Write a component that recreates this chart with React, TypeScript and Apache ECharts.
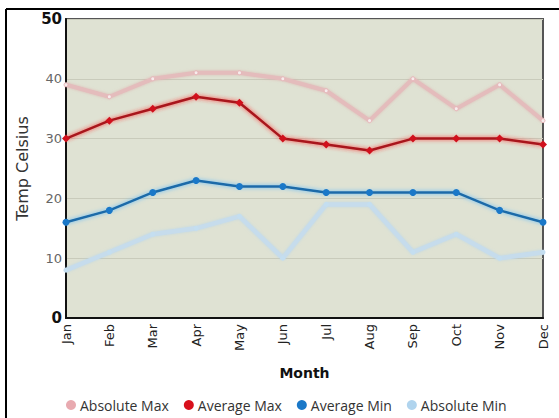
import React, { useEffect, useRef } from "react";
import * as echarts from "echarts";

const months = ["Jan", "Feb", "Mar", "Apr", "May", "Jun", "Jul", "Aug", "Sep", "Oct", "Nov", "Dec"];
const absoluteMax = [39, 37, 40, 41, 41, 40, 38, 33, 40, 35, 39, 33];
const averageMax = [30, 33, 35, 37, 36, 30, 29, 28, 30, 30, 30, 29];
const averageMin = [16, 18, 21, 23, 22, 22, 21, 21, 21, 21, 18, 16];
const absoluteMin = [8, 11, 14, 15, 17, 10, 19, 19, 11, 14, 10, 11];

const FONT = "DejaVu Sans";

export default function App() {
  const ref = useRef<HTMLDivElement>(null);
  useEffect(() => {
    if (!ref.current) return;
    const chart = echarts.init(ref.current, null, { renderer: "svg" });
    chart.setOption({
      animation: false,
      backgroundColor: "#ffffff",
      textStyle: { fontFamily: FONT },
      graphic: [
        { type: "line", shape: { x1: 6, y1: 9, x2: 559, y2: 9 }, style: { stroke: "#000", lineWidth: 2 } },
        { type: "line", shape: { x1: 6, y1: 9, x2: 6, y2: 418 }, style: { stroke: "#000", lineWidth: 2 } },
      ],
      grid: {
        left: 66,
        right: 16,
        top: 19,
        bottom: 100,
        show: true,
        backgroundColor: "#dfe2d3",
        borderColor: "#555",
        borderWidth: 2,
      },
      legend: {
        bottom: 1,
        left: 61,
        itemGap: 15,
        itemWidth: 10,
        itemHeight: 10,
        icon: "circle",
        itemStyle: { borderWidth: 0 },
        textStyle: { fontFamily: "Open Sans", fontSize: 14, color: "#333", padding: [0, 0, 0, -1] },
        data: [
          { name: "Absolute Max", itemStyle: { color: "#e8aab0" } },
          { name: "Average Max", itemStyle: { color: "#d8101c" } },
          { name: "Average Min", itemStyle: { color: "#1a78c8" } },
          { name: "Absolute Min", itemStyle: { color: "#b0d4ee" } },
        ],
      },
      xAxis: {
        type: "category",
        data: months,
        boundaryGap: false,
        name: "Month",
        nameLocation: "middle",
        nameGap: 48,
        nameTextStyle: { fontFamily: FONT, fontSize: 14, fontWeight: "bold", color: "#111" },
        axisLine: { lineStyle: { color: "#111", width: 2 } },
        axisTick: { show: false },
        axisLabel: { rotate: 90, fontSize: 13, color: "#222", margin: 6, fontFamily: FONT },
        splitLine: { show: false },
      },
      yAxis: {
        type: "value",
        min: 0,
        max: 50,
        interval: 10,
        name: "Temp Celsius",
        nameLocation: "middle",
        nameGap: 33,
        nameTextStyle: { fontFamily: FONT, fontSize: 16, color: "#333" },
        axisLine: { show: true, lineStyle: { color: "#111", width: 2 } },
        axisTick: { show: false },
        axisLabel: {
          margin: 4,
          fontFamily: FONT,
          formatter: (v: number) => (v === 0 || v === 50 ? `{b|${v}}` : `{n|${v}}`),
          rich: {
            b: { fontSize: 15, fontWeight: "bold", color: "#111", fontFamily: FONT },
            n: { fontSize: 13, color: "#666", fontFamily: FONT },
          },
        },
        splitLine: { show: true, lineStyle: { color: "#c9cbbb", width: 1 } },
      },
      series: [
        {
          name: "Absolute Max",
          type: "line",
          data: absoluteMax,
          color: "#e6b4b8",
          symbol: "circle",
          symbolSize: 4,
          itemStyle: { color: "#f6ecec", borderColor: "#e6b4b8", borderWidth: 1 },
          lineStyle: { color: "#e4bcbc", width: 4, shadowColor: "rgba(220,160,160,0.6)", shadowBlur: 3 },
          z: 2,
        },
        {
          name: "Average Max",
          type: "line",
          data: averageMax,
          color: "#d8101c",
          symbol: "diamond",
          symbolSize: 8,
          itemStyle: { color: "#d0101c" },
          lineStyle: { color: "#a8141c", width: 2.5, shadowColor: "rgba(255,40,40,0.9)", shadowBlur: 4 },
          z: 4,
        },
        {
          name: "Average Min",
          type: "line",
          data: averageMin,
          color: "#1a78c8",
          symbol: "circle",
          symbolSize: 7,
          itemStyle: { color: "#1a78c8" },
          lineStyle: { color: "#1a6aa8", width: 2.5, shadowColor: "rgba(80,180,255,0.9)", shadowBlur: 4 },
          z: 4,
        },
        {
          name: "Absolute Min",
          type: "line",
          data: absoluteMin,
          color: "#b4d6ee",
          symbol: "circle",
          symbolSize: 5,
          itemStyle: { color: "#c4def0" },
          lineStyle: { color: "#c6dcec", width: 4.5, shadowColor: "rgba(170,210,240,0.6)", shadowBlur: 3 },
          z: 2,
        },
      ],
    });
    return () => chart.dispose();
  }, []);
  return <div ref={ref} style={{ width: 559, height: 418, position: "absolute", left: 0, top: 0 }} />;
}
